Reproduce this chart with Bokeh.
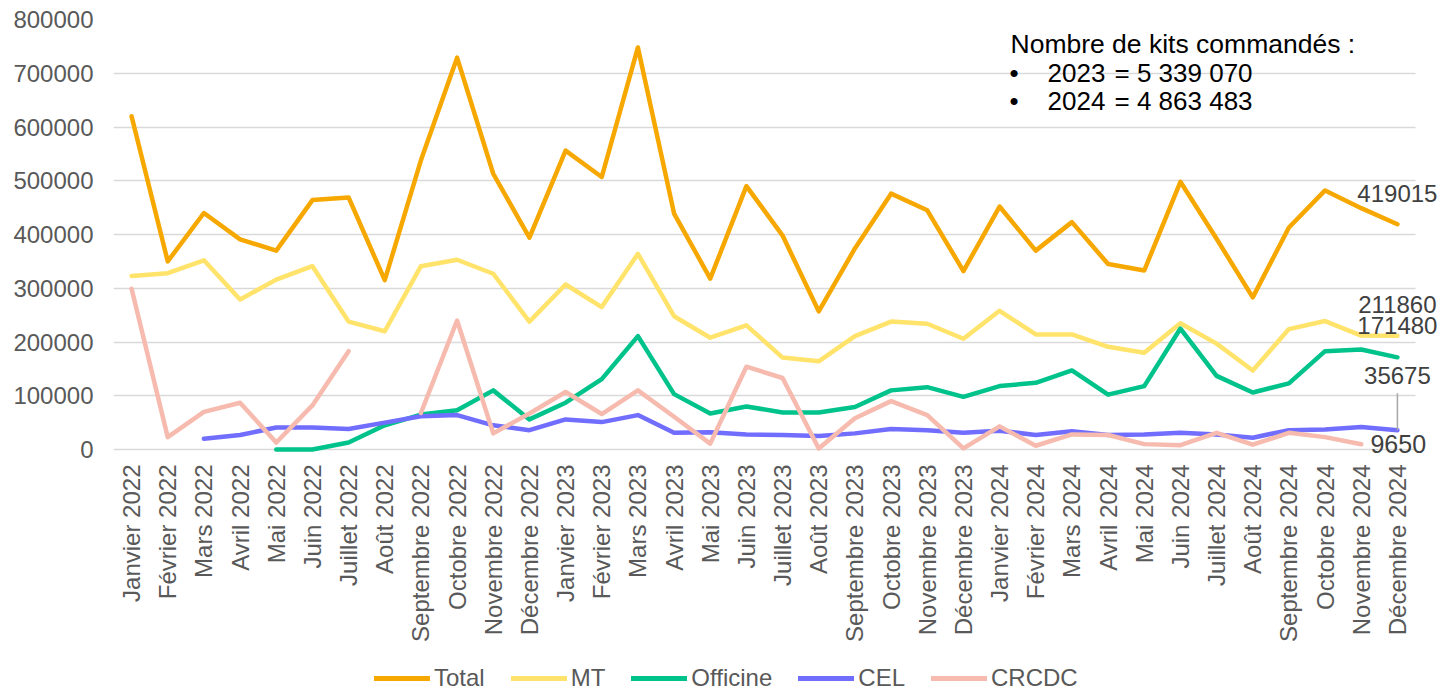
import math
from bokeh.plotting import figure
from bokeh.layouts import column
from bokeh.models import (Range1d, FixedTicker, NumeralTickFormatter, Legend, LegendItem,
                          ColumnDataSource, LabelSet, Label, BoxAnnotation)
from bokeh.core.properties import value
from bokeh.embed import file_html
from bokeh.resources import INLINE

nan = float("nan")

month_names = ["Janvier", "Février", "Mars", "Avril", "Mai", "Juin", "Juillet", "Août",
               "Septembre", "Octobre", "Novembre", "Décembre"]
years = [2022, 2023, 2024]
months = [f"{m} {y}" for y in years for m in month_names]

total = [620000, 350000, 440000, 391000, 370000, 464000, 469000, 315000, 538000, 729000, 513000, 394000,
         556000, 507000, 748000, 439000, 318000, 490000, 398000, 257000, 374000, 476000, 445000, 332000,
         452000, 370000, 423000, 345000, 333000, 498000, 392000, 283000, 413000, 482000, 449000, 419015]
mt = [323000, 328000, 352000, 279000, 316000, 341000, 238000, 220000, 341000, 353000, 327000, 238000,
      307000, 265000, 364000, 248000, 208000, 231000, 171000, 164000, 211000, 238000, 234000, 206000,
      258000, 214000, 214000, 191000, 180000, 235000, 197000, 147000, 224000, 239000, 212000, 211860]
officine = [nan, nan, nan, nan, 0, 0, 13000, 45000, 65000, 73000, 110000, 56000,
            87000, 131000, 211000, 103000, 67000, 80000, 69000, 69000, 79000, 110000, 116000, 98000,
            118000, 124000, 147000, 102000, 118000, 225000, 137000, 106000, 123000, 183000, 186000, 171480]
cel = [nan, nan, 20000, 27000, 41000, 41000, 38000, 50000, 62000, 64000, 45000, 36000,
       56000, 51000, 64000, 31000, 32000, 28000, 27000, 25000, 30000, 38000, 36000, 31000,
       35000, 27000, 34000, 27000, 28000, 31000, 28000, 22000, 36000, 37000, 42000, 35675]
crcdc = [299000, 23000, 70000, 87000, 13000, 82000, 183000, nan, 68000, 240000, 30000, 67000,
         107000, 66000, 110000, 61000, 11000, 154000, 133000, 2000, 58000, 90000, 64000, 2000,
         43000, 7000, 28000, 27000, 10000, 8000, 31000, 9000, 31000, 23000, 9650, nan]

series_names = ["Total", "MT", "Officine", "CEL", "CRCDC"]
series_colors = ["#F6A800", "#FFE36A", "#00C28B", "#716DFF", "#F6BBAE"]
yticks = [0, 100000, 200000, 300000, 400000, 500000, 600000, 700000, 800000]

info_title = "Nombre de kits commandés :"
info_years = ["2023", "2024"]
info_values = ["= 5 339 070", "= 4 863 483"]

FONT = "Liberation Sans"
W = 1443
H_MAIN, H_LEG = 656, 36
FL, FT = 113, 19
ZERO_PY = 449                     # page y of the zero line
EXT = 9                           # frame extends a little below zero so end labels are not clipped
FW, FH = 1441 - FL, ZERO_PY - FT + EXT
CW = 1302 / len(months)           # pixel width of one month slot
upp_y = (yticks[-1] - yticks[0]) / (ZERO_PY - FT)
upp_x = 1 / CW

p = figure(width=W, height=H_MAIN, output_backend="svg", toolbar_location=None,
           x_range=Range1d(-0.5, -0.5 + FW / CW),
           y_range=Range1d(yticks[0] - EXT * upp_y, yticks[-1]),
           min_border_left=FL, min_border_right=W - FL - FW,
           min_border_top=FT, min_border_bottom=H_MAIN - FT - FH)
p.outline_line_color = None
p.background_fill_color = "white"
p.border_fill_color = "white"

xs = list(range(len(months)))
data_series = [total, mt, officine, cel, crcdc]

# mask grid lines beyond the last month slot (frame is widened to fit end labels)
p.add_layout(BoxAnnotation(left=len(months) - 0.5, fill_color="white", fill_alpha=1.0,
                           line_color=None, level="underlay"))

for ys, c in zip(data_series, series_colors):
    p.line(xs, ys, line_color=c, line_width=4.5, line_join="round", line_cap="round")

# axes
p.xaxis.ticker = FixedTicker(ticks=xs)
p.xaxis.major_label_overrides = {i: m for i, m in enumerate(months)}
p.xaxis.major_label_orientation = math.pi / 2
p.yaxis.ticker = FixedTicker(ticks=yticks)
p.yaxis.formatter = NumeralTickFormatter(format="0")
for ax in (p.xaxis[0], p.yaxis[0]):
    ax.axis_line_color = None
    ax.major_tick_line_color = None
    ax.minor_tick_line_color = None
    ax.major_tick_out = 0
    ax.major_tick_in = 0
    ax.major_label_text_font = FONT
    ax.major_label_text_font_size = "24px"
    ax.major_label_text_color = "#595959"
p.xaxis.major_label_standoff = 15 - EXT
p.yaxis.major_label_standoff = 20
p.xgrid.visible = False
p.ygrid.grid_line_color = "#d9d9d9"
p.ygrid.grid_line_width = 1.6

# end-of-series data labels
last_idx = [max(i for i, v in enumerate(ys) if v == v) for ys in data_series]
dx_px = [0, 0, 0, 0, 37]
dy_px = [31, 31, 32, 55, 0]
sizes = ["24px", "24px", "24px", "24px", "25px"]
lab_x = [last_idx[k] + dx_px[k] * upp_x for k in range(5)]
lab_y = [data_series[k][last_idx[k]] + dy_px[k] * upp_y for k in range(5)]
lab_t = [str(data_series[k][last_idx[k]]) for k in range(5)]
src = ColumnDataSource(dict(x=lab_x, y=lab_y, t=lab_t, s=sizes))
p.add_layout(LabelSet(x="x", y="y", text="t", source=src, text_align="center",
                      text_baseline="middle", text_font=value(FONT),
                      text_font_size="s", text_color="#404040"))
# leader line for CEL label
k = 3
p.segment(x0=[last_idx[k]], y0=[cel[last_idx[k]]], x1=[last_idx[k]],
          y1=[cel[last_idx[k]] + 37 * upp_y], line_color="#a6a6a6", line_width=1.5)

# info text box
def px_to_x(px):
    return (px - FL) * upp_x - 0.5

def py_to_y(py):
    return (ZERO_PY - py) * upp_y

INFO_SIZE = "26px"
p.add_layout(Label(x=px_to_x(1010), y=py_to_y(43), text=info_title, text_font=FONT,
                   text_font_size="26.5px", text_color="black", text_baseline="middle"))
for j in range(len(info_years)):
    yy = py_to_y(72 + 28.5 * j)
    p.add_layout(Label(x=px_to_x(1009), y=yy, text="•", text_font=FONT,
                       text_font_size=INFO_SIZE, text_color="black", text_baseline="middle"))
    p.add_layout(Label(x=px_to_x(1047), y=yy, text=info_years[j], text_font=FONT,
                       text_font_size=INFO_SIZE, text_color="black", text_baseline="middle"))
    p.add_layout(Label(x=px_to_x(1114), y=yy, text=info_values[j], text_font=FONT,
                       text_font_size=INFO_SIZE, text_color="black", text_baseline="middle"))

# legend strip below the chart (its frame is aligned with the main frame by the column)
pl = figure(width=W, height=H_LEG, output_backend="svg", toolbar_location=None,
            x_axis_location=None, y_axis_location=None,
            x_range=Range1d(0, 1), y_range=Range1d(-2, -1), min_border=0)
pl.outline_line_color = None
pl.grid.visible = False
leg_renderers = [pl.line(xs, ys, line_color=c, line_width=5, line_cap="round")
                 for ys, c in zip(data_series, series_colors)]
legend = Legend(items=[LegendItem(label=n, renderers=[r]) for n, r in zip(series_names, leg_renderers)],
                orientation="horizontal", location=(374 - FL, 0),
                label_text_font=FONT, label_text_font_size="24px", label_text_color="#595959",
                glyph_width=56, glyph_height=20, label_standoff=4, spacing=26,
                padding=0, margin=0, border_line_color=None, background_fill_alpha=0)
pl.add_layout(legend, "center")

open("out.html", "w").write(file_html(column(p, pl, spacing=0), INLINE))
